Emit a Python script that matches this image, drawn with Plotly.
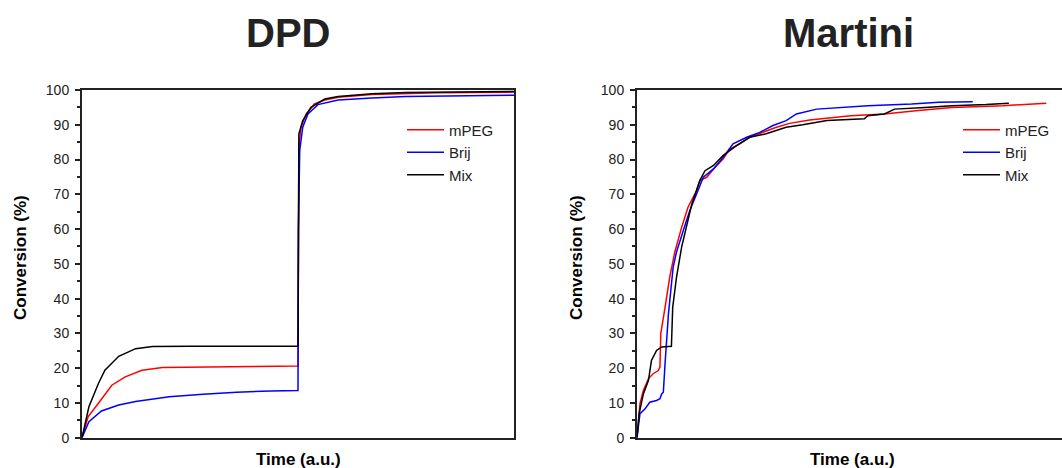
import plotly.graph_objects as go

W, H = 1062, 468

# ---------------- DPD data ----------------
dpd_mpeg_x = [0, 1.4, 3.8, 6.9, 10, 13.9, 18.6, 28, 40, 50, 50.05, 50.2, 50.7, 51.9, 53.8, 56.2, 59.3, 67.1, 82.8, 100]
dpd_mpeg_y = [0, 6, 9.9, 15.1, 17.5, 19.4, 20.2, 20.4, 20.5, 20.6, 60, 83.5, 89.3, 93.1, 96, 97.1, 97.9, 98.7, 99.2, 99.4]

dpd_brij_x = [0, 1.6, 4.5, 8.5, 12.4, 20.2, 28, 35.8, 43.7, 50, 50.1, 50.4, 51.1, 52.3, 54.6, 59.3, 67.1, 75, 100]
dpd_brij_y = [0, 4.6, 7.7, 9.4, 10.4, 11.8, 12.5, 13.1, 13.4, 13.6, 60, 82.6, 89.3, 93.1, 95.8, 97.1, 97.7, 98.1, 98.5]

dpd_mix_x = [0, 1.6, 3.8, 5.3, 8.5, 12.4, 16.3, 25, 50, 50.02, 50.2, 51.1, 53, 56.2, 59.3, 67.1, 75, 100]
dpd_mix_y = [0, 8.9, 15.6, 19.4, 23.4, 25.6, 26.2, 26.3, 26.3, 70, 87.4, 91.2, 95, 97.4, 98.1, 98.9, 99.3, 99.6]

# ---------------- Martini data ----------------
mar_mpeg_x = [0, 0.7, 1.5, 2.7, 3.8, 5.0, 5.4, 5.6, 6.6, 7.7, 8.9, 10.5, 12.0, 14.0, 14.8, 16.4, 18.0, 20.3, 21.8,
              24.2, 26.5, 29.6, 32.8, 35.9, 40.6, 50.3, 58.2, 66.2, 74.1, 86.1, 96.3]
mar_mpeg_y = [0, 9.8, 13.6, 17.0, 18.4, 19.3, 20.3, 30.0, 37.5, 46.2, 53.4, 60.5, 66.3, 71.0, 74.0, 74.9, 77.3, 80.2, 83.0,
              84.5, 86.4, 87.8, 89.3, 90.4, 91.4, 92.6, 93.1, 94.1, 95.0, 95.5, 96.2]

mar_brij_x = [0, 0.7, 1.9, 3.0, 4.6, 5.4, 5.8, 6.2, 6.6, 7.4, 8.5, 9.3, 10.9, 12.4, 14.0, 15.6, 18.0, 20.3, 22.6,
              25.8, 28.9, 32.0, 35.1, 37.5, 42.3, 50.3, 54.3, 64.6, 71.0, 79.0]
mar_brij_y = [0, 6.9, 8.3, 10.2, 10.7, 11.2, 12.6, 13.1, 21.3, 35.6, 49.0, 53.4, 59.6, 65.3, 70.0, 74.9, 77.3, 80.7, 84.5,
              86.4, 87.8, 89.8, 91.2, 93.1, 94.5, 95.2, 95.5, 96.0, 96.5, 96.6]

mar_mix_x = [0, 0.5, 1.5, 2.7, 3.4, 4.6, 5.8, 8.1, 8.4, 9.3, 10.5, 11.7, 12.9, 14.8, 16.0, 18.0, 20.3, 23.4,
             26.5, 30.4, 32.8, 35.1, 39.0, 44.7, 53.5, 54.3, 58.2, 60.6, 67.8, 74.1, 82.1, 87.5]
mar_mix_y = [0, 6.9, 12.6, 16.5, 22.2, 25.1, 26.1, 26.3, 37.5, 46.2, 54.8, 61.5, 67.2, 74.0, 76.8, 78.3, 81.2, 84.0,
             86.4, 87.4, 88.3, 89.3, 90.0, 91.2, 91.7, 92.6, 93.1, 94.5, 95.0, 95.5, 95.8, 96.2]

names = ["mPEG", "Brij", "Mix"]
colors = ["#ff0000", "#0000ff", "#000000"]
y_ticks = list(range(0, 101, 10))

fig = go.Figure()

dpd = [(dpd_mpeg_x, dpd_mpeg_y), (dpd_brij_x, dpd_brij_y), (dpd_mix_x, dpd_mix_y)]
mar = [(mar_mpeg_x, mar_mpeg_y), (mar_brij_x, mar_brij_y), (mar_mix_x, mar_mix_y)]

for (x, y), n, c in zip(dpd, names, colors):
    fig.add_trace(go.Scatter(x=x, y=y, mode="lines", name=n, line=dict(color=c, width=1.5),
                             xaxis="x", yaxis="y", legend="legend"))
for (x, y), n, c in zip(mar, names, colors):
    fig.add_trace(go.Scatter(x=x, y=y, mode="lines", name=n, line=dict(color=c, width=1.5),
                             xaxis="x2", yaxis="y2", legend="legend2"))

def px(v):
    return v / W

def py(v):
    return 1 - v / H

ydom = [py(437.7), py(90)]
font = "Liberation Sans, Arial, sans-serif"

xcommon = dict(range=[0, 100], showline=True, linecolor="#222", linewidth=2, mirror=True,
               showticklabels=False, ticks="", showgrid=False, zeroline=False, automargin=False)
ycommon = dict(range=[0, 100], tickvals=y_ticks, showline=True, linecolor="#222", linewidth=2,
               ticks="outside", ticklen=5, tickwidth=1.5, tickcolor="#222",
               minor=dict(dtick=5, ticks="outside", ticklen=3, tickwidth=1.5, tickcolor="#222"),
               showgrid=False, zeroline=False, tickfont=dict(family=font, size=14, color="#222"),
               ticklabelstandoff=3, automargin=False)

legend_common = dict(font=dict(family=font, size=15, color="#222"), bgcolor="rgba(0,0,0,0)",
                     xanchor="left", yanchor="top", tracegroupgap=0, itemwidth=37)

fig.update_layout(
    width=W, height=H, margin=dict(l=0, r=0, t=0, b=0, autoexpand=False),
    plot_bgcolor="white", paper_bgcolor="white",
    xaxis=dict(domain=[px(82), px(514)], anchor="y", **xcommon),
    yaxis=dict(domain=ydom, anchor="x", mirror=True, **ycommon),
    xaxis2=dict(domain=[px(637), 1], anchor="y2", **xcommon),
    yaxis2=dict(domain=ydom, anchor="x2", mirror=False, **ycommon),
    legend=dict(x=px(402), y=py(113.5), **legend_common),
    legend2=dict(x=px(958), y=py(113.5), **legend_common),
    annotations=[
        dict(text="<b>DPD</b>", x=px(288), y=py(33), xref="paper", yref="paper", showarrow=False,
             font=dict(family=font, size=40, color="#222"), xanchor="center", yanchor="middle"),
        dict(text="<b>Martini</b>", x=px(848), y=py(33), xref="paper", yref="paper", showarrow=False,
             font=dict(family=font, size=40, color="#222"), xanchor="center", yanchor="middle"),
        dict(text="<b>Conversion (%)</b>", x=px(20), y=py(258), xref="paper", yref="paper", showarrow=False,
             textangle=-90, font=dict(family=font, size=17, color="#000"), xanchor="center", yanchor="middle"),
        dict(text="<b>Conversion (%)</b>", x=px(576), y=py(258), xref="paper", yref="paper", showarrow=False,
             textangle=-90, font=dict(family=font, size=17, color="#000"), xanchor="center", yanchor="middle"),
        dict(text="<b>Time (a.u.)</b>", x=px(298), y=py(459), xref="paper", yref="paper", showarrow=False,
             font=dict(family=font, size=17, color="#000"), xanchor="center", yanchor="middle"),
        dict(text="<b>Time (a.u.)</b>", x=px(853), y=py(459), xref="paper", yref="paper", showarrow=False,
             font=dict(family=font, size=17, color="#000"), xanchor="center", yanchor="middle"),
    ],
)

fig.write_html("out.html")
